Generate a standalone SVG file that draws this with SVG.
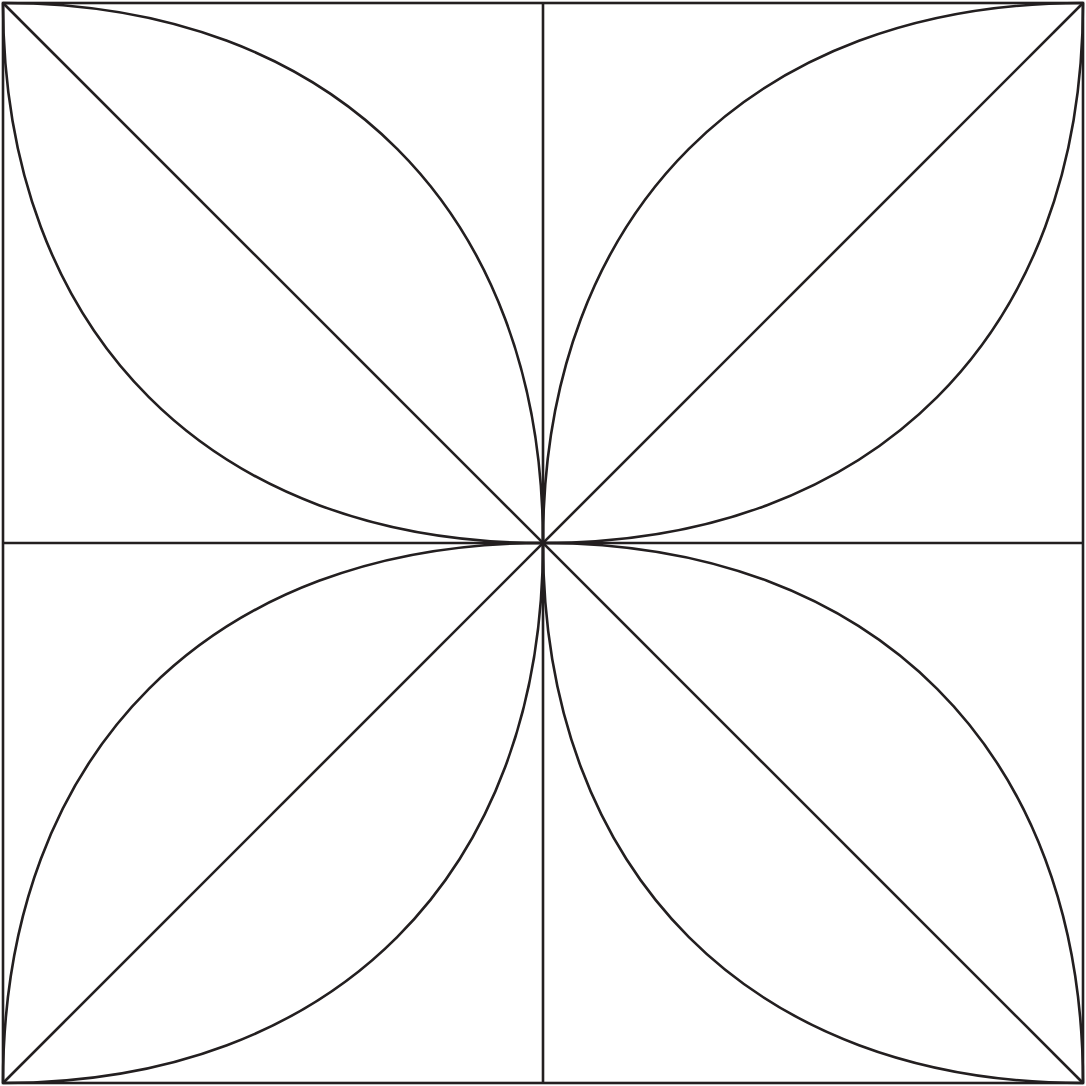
<svg xmlns="http://www.w3.org/2000/svg" width="1086" height="1086" viewBox="0 0 1086 1086">
<style>
.l{fill:none;stroke:#231f20;stroke-width:2.6}
</style>
<rect width="1086" height="1086" fill="#fff"/>
<g id="frame" class="l">
<rect x="3" y="3" width="1080" height="1080"/>
<line x1="543" y1="3" x2="543" y2="1083"/>
<line x1="3" y1="543" x2="1083" y2="543"/>
<line x1="3" y1="3" x2="1083" y2="1083"/>
<line x1="1083" y1="3" x2="3" y2="1083"/>
</g>
<g id="leaf-tl" class="l">
<path d="M3,3 C3,334 212,543 543,543"/>
<path d="M3,3 C334,3 543,212 543,543"/>
</g>
<g id="leaf-tr" class="l">
<path d="M1083,3 C1083,334 874,543 543,543"/>
<path d="M1083,3 C752,3 543,212 543,543"/>
</g>
<g id="leaf-bl" class="l">
<path d="M3,1083 C3,752 212,543 543,543"/>
<path d="M3,1083 C334,1083 543,874 543,543"/>
</g>
<g id="leaf-br" class="l">
<path d="M1083,1083 C1083,752 874,543 543,543"/>
<path d="M1083,1083 C752,1083 543,874 543,543"/>
</g>
</svg>
